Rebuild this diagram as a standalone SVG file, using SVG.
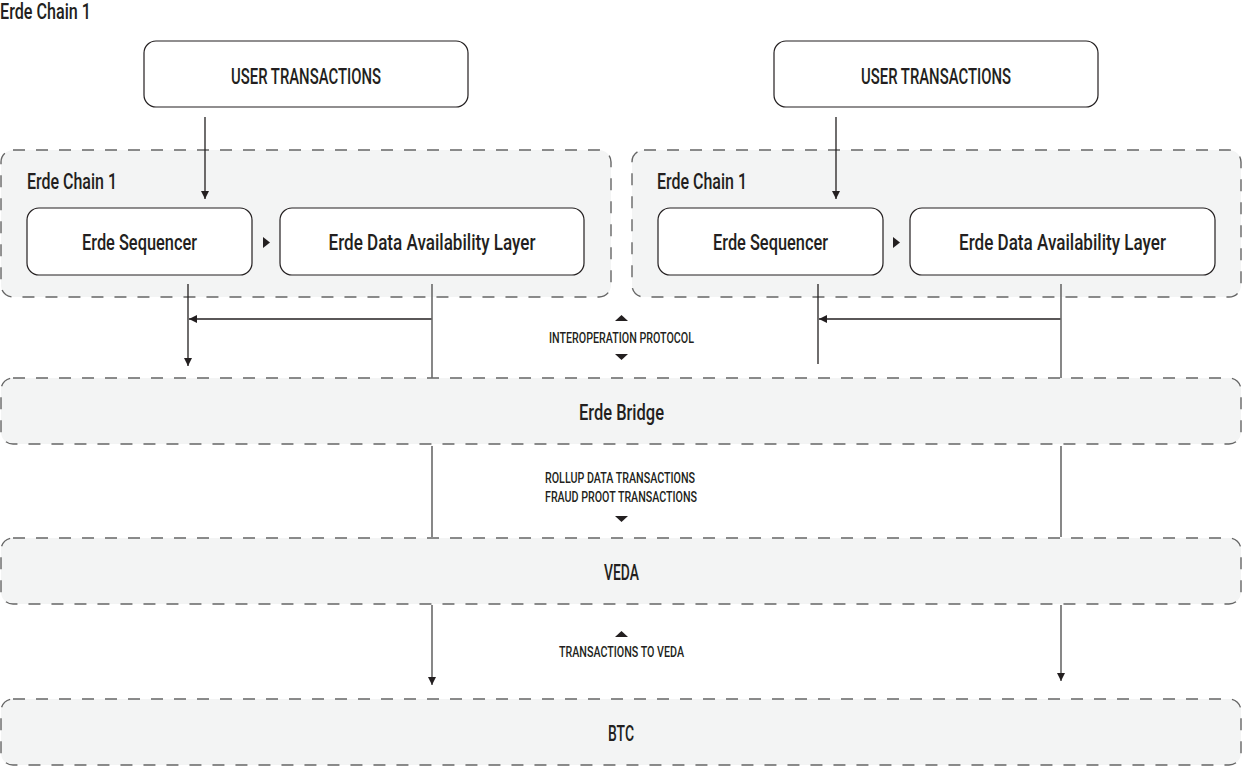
<svg xmlns="http://www.w3.org/2000/svg" width="1242" height="766" viewBox="0 0 1242 766">
<style>
.dbox{fill:#f3f4f4;stroke:#666;stroke-width:1.4;stroke-dasharray:12 11}
.sbox{fill:#fff;stroke:#231f20;stroke-width:1.2}
.t{font-family:Roboto,"Liberation Sans",sans-serif;font-weight:500;fill:#231f20;text-anchor:middle}
.big{font-size:21.5px}
.sm{font-size:15.5px}
.lbl{font-family:Roboto,"Liberation Sans",sans-serif;font-weight:500;fill:#231f20;font-size:21.5px}
.ln{fill:none;stroke:#231f20;stroke-width:1.3}
.gl{fill:none;stroke:#6a6a6a;stroke-width:1.6}
.tri{fill:#231f20}
</style>
<defs>
<marker id="ah" viewBox="0 0 10 10" refX="10" refY="5" markerWidth="8" markerHeight="8" markerUnits="userSpaceOnUse" orient="auto">
<path d="M0,0 L10,5 L0,10 z" fill="#231f20"/>
</marker>
</defs>
<rect width="1242" height="766" fill="#fff"/>
<text class="lbl" x="0" y="19" textLength="91" lengthAdjust="spacingAndGlyphs">Erde Chain 1</text>

<g id="chain-left">
<rect class="dbox" x="1" y="150" width="610" height="147" rx="12"/>
<text class="lbl" x="27" y="189" textLength="90" lengthAdjust="spacingAndGlyphs">Erde Chain 1</text>
</g>
<g id="chain-right">
<rect class="dbox" x="632" y="150" width="609" height="147" rx="12"/>
<text class="lbl" x="657" y="189" textLength="90" lengthAdjust="spacingAndGlyphs">Erde Chain 1</text>
</g>

<g id="user-tx-left">
<rect class="sbox" x="144" y="41" width="324" height="66" rx="12"/>
<text class="t big" x="306" y="84" textLength="150" lengthAdjust="spacingAndGlyphs">USER TRANSACTIONS</text>
</g>
<g id="user-tx-right">
<rect class="sbox" x="774" y="41" width="324" height="66" rx="12"/>
<text class="t big" x="936" y="84" textLength="150" lengthAdjust="spacingAndGlyphs">USER TRANSACTIONS</text>
</g>

<g id="seq-left">
<rect class="sbox" x="27" y="208" width="225" height="67" rx="12"/>
<text class="t big" x="139.5" y="250" textLength="115" lengthAdjust="spacingAndGlyphs">Erde Sequencer</text>
</g>
<g id="da-left">
<rect class="sbox" x="280" y="208" width="304" height="67" rx="12"/>
<text class="t big" x="432" y="250" textLength="207" lengthAdjust="spacingAndGlyphs">Erde Data Availability Layer</text>
</g>
<g id="seq-right">
<rect class="sbox" x="658" y="208" width="225" height="67" rx="12"/>
<text class="t big" x="770.5" y="250" textLength="115" lengthAdjust="spacingAndGlyphs">Erde Sequencer</text>
</g>
<g id="da-right">
<rect class="sbox" x="910" y="208" width="305" height="67" rx="12"/>
<text class="t big" x="1062.5" y="250" textLength="207" lengthAdjust="spacingAndGlyphs">Erde Data Availability Layer</text>
</g>

<g id="bridge">
<rect class="dbox" x="1" y="378" width="1240" height="66" rx="12"/>
<text class="t big" x="621.5" y="420" textLength="85" lengthAdjust="spacingAndGlyphs">Erde Bridge</text>
</g>
<g id="veda">
<rect class="dbox" x="1" y="538" width="1240" height="66" rx="12"/>
<text class="t big" x="621.5" y="580" textLength="35" lengthAdjust="spacingAndGlyphs">VEDA</text>
</g>
<g id="btc">
<rect class="dbox" x="1" y="699" width="1240" height="66" rx="12"/>
<text class="t big" x="621" y="741" textLength="26" lengthAdjust="spacingAndGlyphs">BTC</text>
</g>

<g id="connectors">
<path class="ln" d="M205,117 V199" marker-end="url(#ah)"/>
<path class="ln" d="M836,117 V199" marker-end="url(#ah)"/>
<polygon class="tri" points="263,237 270,242.5 263,248"/>
<polygon class="tri" points="893,237 900,242.5 893,248"/>
<path class="ln" d="M188,284 V366" marker-end="url(#ah)"/>
<path class="ln" d="M432,319 H189" marker-end="url(#ah)"/>
<path class="gl" d="M432,284 V378"/>
<path class="ln" d="M818,284 V364"/>
<path class="ln" d="M1061,319 H819" marker-end="url(#ah)"/>
<path class="gl" d="M1061,284 V378"/>
<path class="gl" d="M432,446 V537"/>
<path class="gl" d="M1061,446 V537"/>
<path class="gl" d="M432,605 V685" marker-end="url(#ah)"/>
<path class="gl" d="M1061,605 V681" marker-end="url(#ah)"/>
<polygon class="tri" points="621.5,315 628,321 615,321"/>
<polygon class="tri" points="615,354 628,354 621.5,360"/>
<polygon class="tri" points="615,516 628,516 621.5,522"/>
<polygon class="tri" points="621.5,631 628,637 615,637"/>
<text class="t sm" x="621.5" y="343" textLength="145" lengthAdjust="spacingAndGlyphs">INTEROPERATION PROTOCOL</text>
<text class="t sm" x="620" y="483" textLength="150" lengthAdjust="spacingAndGlyphs">ROLLUP DATA TRANSACTIONS</text>
<text class="t sm" x="621" y="502" textLength="152" lengthAdjust="spacingAndGlyphs">FRAUD PROOT TRANSACTIONS</text>
<text class="t sm" x="621.5" y="657" textLength="125" lengthAdjust="spacingAndGlyphs">TRANSACTIONS TO VEDA</text>
</g>
</svg>
